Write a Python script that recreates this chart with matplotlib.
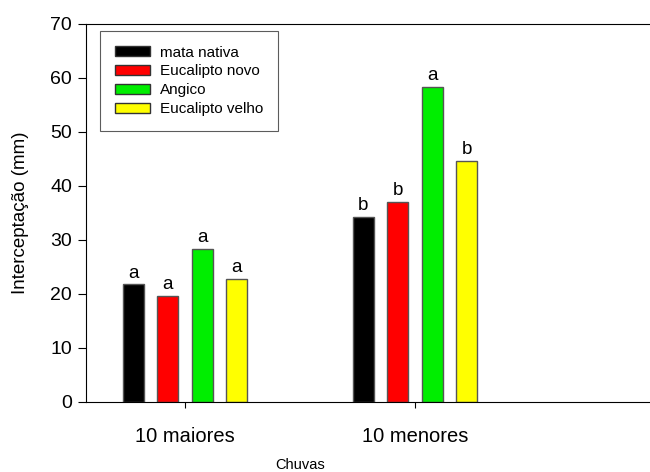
import numpy as np
import matplotlib.pyplot as plt
from matplotlib.patches import Patch

plt.rcParams['font.family'] = ['Liberation Sans', 'DejaVu Sans']

# data
groups = ['10 maiores', '10 menores']
series = ['mata nativa', 'Eucalipto novo', 'Angico', 'Eucalipto velho']
colors = ['#000000', '#ff0000', '#00ee00', '#ffff00']
values = [
    [21.8, 34.3],   # mata nativa
    [19.6, 37.0],   # Eucalipto novo
    [28.3, 58.3],   # Angico
    [22.8, 44.6],   # Eucalipto velho
]
letters = [
    ['a', 'b'],
    ['a', 'b'],
    ['a', 'a'],
    ['a', 'b'],
]

fig = plt.figure(figsize=(6.5, 4.72), dpi=100)
ax = fig.add_axes([86 / 650, 1 - 402 / 472, 1 - 86 / 650, (402 - 24) / 472])

x = np.arange(len(groups))
width = 0.0913
step = 0.15
for i, name in enumerate(series):
    pos = x + (i - 1.5) * step
    ax.bar(pos, values[i], width, color=colors[i], edgecolor='#555555',
           linewidth=1, label=name)
    for p, v, l in zip(pos, values[i], letters[i]):
        ax.annotate(l, (p, v), xytext=(0, 2), textcoords='offset points',
                    ha='center', va='bottom', fontsize=13.5)

ax.set_xlim(-0.43, 2.02)
ax.set_ylim(0, 70)
ax.set_yticks(range(0, 71, 10))
ax.set_xticks(x)
ax.set_xticklabels(groups, fontsize=14.5)
ax.tick_params(axis='y', labelsize=14, length=6, direction='out', pad=4)
ax.tick_params(axis='x', length=4, direction='out', pad=14)
ax.spines['right'].set_visible(False)
ax.set_ylabel('Interceptação (mm)', fontsize=13.5)
ax.yaxis.set_label_coords(-(86 - 29) / 564, 0.5)

fig.text(300 / 650, 1 - 465 / 472, 'Chuvas', ha='center', va='center', fontsize=10.5)

handles = [Patch(facecolor=c, edgecolor='#333333', label=s) for c, s in zip(colors, series)]
leg = ax.legend(handles=handles, loc='upper left', bbox_to_anchor=(14 / 564, 1 - 7 / 378),
                borderaxespad=0, fontsize=11, frameon=True, fancybox=False,
                edgecolor='#333333', handlelength=2.35, handleheight=0.65,
                handletextpad=0.65, labelspacing=0.32, borderpad=0.95)
leg.get_frame().set_linewidth(0.8)

fig.savefig('out.png', dpi=100)
